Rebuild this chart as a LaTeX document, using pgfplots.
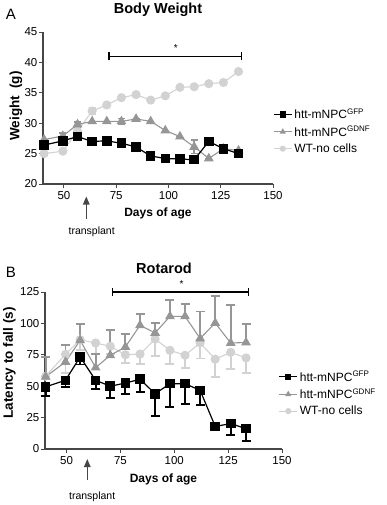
\documentclass[border=0pt]{standalone}
\usepackage{fontspec}
\setmainfont{Liberation Sans}
\usepackage{pgfplots}
\pgfplotsset{compat=1.18}
\usetikzlibrary{arrows.meta}
\definecolor{gdnf}{RGB}{150,150,150}
\definecolor{wtc}{RGB}{210,210,210}
\definecolor{axc}{RGB}{70,70,70}

\pgfplotsset{
  mystyle/.style={
    scale only axis, clip=false,
    axis x line*=bottom, axis y line*=left,
    axis line style={axc, line width=1.1pt},
    tick align=outside, major tick length=4pt,
    every tick/.style={axc, line width=1pt},
    tick label style={font=\fontsize{11.5}{13}\selectfont},
    yticklabel style={inner xsep=1.5pt},
    /pgf/number format/assume math mode=true,
    xmin=40, xmax=150, xtick={50,75,100,125,150},
    legend cell align=left,
    reverse legend,
    legend style={draw=none, fill=none, font=\fontsize{12}{14}\selectfont, row sep=2pt, inner sep=0pt},
    legend image code/.code={\draw[mark repeat=2,mark phase=2] plot coordinates {(0pt,0pt) (9pt,0pt) (18pt,0pt)};},
    legend image post style={mark size=2.5pt},
  },
  gfp/.style={black, line width=1.2pt, mark=square*, mark size=4.2pt, mark options={solid, fill=black}},
  gdnfs/.style={gdnf, line width=1.1pt, mark=triangle*, mark size=4.6pt, mark options={solid, fill=gdnf}},
  wts/.style={wtc, line width=1.1pt, mark=*, mark size=4pt, mark options={solid, fill=wtc}},
}

\begin{document}
\begin{tikzpicture}
\path[use as bounding box] (0pt,-505pt) rectangle (387pt,0pt);

% ---------------- Panel A ----------------
\begin{axis}[mystyle, at={(43pt,-184pt)}, anchor=south west,
  width=230pt, height=152pt, ymin=20, ymax=45, ytick={20,25,...,45},
  legend style={at={(axis description cs:1.0,0.51)}, anchor=north west}]
\addplot[wts, error bars/.cd, y dir=both, y explicit,
  error bar style={wtc, line width=1.6pt}, error mark options={rotate=90, wtc, line width=1.6pt, mark size=3.5pt}]
  coordinates {
  (40.5,25.0) +- (0,0)
  (49.5,25.4) +- (0,0)
  (56.5,28.7) +- (0,1.4)
  (63.5,32.0) +- (0,0.5)
  (70.5,33.0) +- (0,0)
  (77.5,34.2) +- (0,0)
  (84.5,34.7) +- (0,0)
  (91.5,33.8) +- (0,0)
  (98.5,34.5) +- (0,0)
  (105.5,35.9) +- (0,0)
  (112.3,36.0) +- (0,0)
  (119.3,36.5) +- (0,0)
  (126.3,36.7) +- (0,0.5)
  (133.5,38.5) +- (0,0)
  };
\addlegendentry{WT-no cells}
\addplot[gdnfs, error bars/.cd, y dir=both, y explicit,
  error bar style={gdnf, line width=1.6pt}, error mark options={rotate=90, gdnf, line width=1.6pt, mark size=3.5pt}]
  coordinates {
  (40.5,27.3) +- (0,0)
  (49.5,27.9) +- (0,0.5)
  (56.5,29.8) +- (0,0.4)
  (63.5,30.3) +- (0,0)
  (70.5,30.3) +- (0,0)
  (77.5,30.3) +- (0,0.5)
  (84.5,30.7) +- (0,0)
  (91.5,30.3) +- (0,0)
  (98.5,28.8) +- (0,0)
  (105.5,27.8) +- (0,0)
  (112.3,26.1) +- (0,1.1)
  (119.3,24.2) +- (0,0)
  (126.3,25.8) +- (0,0)
  (133.5,25.5) +- (0,0)
  };
\addlegendentry{htt-mNPC\textsuperscript{GDNF}}
\addplot[gfp] coordinates {
  (40.5,26.4) (49.5,27.1) (56.5,27.8) (63.5,27.0) (70.5,27.1) (77.5,26.7) (84.5,26.1)
  (91.5,24.6) (98.5,24.2) (105.5,24.1) (112.3,24.0) (119.3,27.0) (126.3,25.8) (133.5,25.0)
  };
\addlegendentry{htt-mNPC\textsuperscript{GFP}}
% significance bar
\draw[black, line width=1.6pt] (axis cs:71.6,41) -- (axis cs:135,41);
\draw[black, line width=1.6pt] (axis cs:71.6,40.35) -- (axis cs:71.6,41.65);
\draw[black, line width=1.6pt] (axis cs:135,40.35) -- (axis cs:135,41.65);
\node[font=\fontsize{10}{11}\selectfont] at (axis cs:103.5,42.3) {*};
\end{axis}

\node[font=\bfseries\fontsize{14.5}{16}\selectfont] at (158pt,-10pt) {Body Weight};
\node[font=\fontsize{15}{17}\selectfont] at (11pt,-14pt) {A};
\node[rotate=90, font=\bfseries\fontsize{13.5}{15}\selectfont] at (16pt,-106pt) {Weight\ \ (g)};
\node[font=\bfseries\fontsize{12}{14}\selectfont] at (158pt,-213pt) {Days of age};
\draw[axc, line width=1.2pt, -{Triangle[width=6.5pt,length=8pt]}] (86.3pt,-219pt) -- (86.3pt,-196.5pt);
\node[font=\fontsize{10.5}{12}\selectfont] at (91.7pt,-231.7pt) {transplant};

% ---------------- Panel B ----------------
\begin{axis}[mystyle, at={(45pt,-449pt)}, anchor=south west,
  width=237pt, height=157pt, ymin=0, ymax=125, ytick={0,25,...,125},
  legend style={at={(axis description cs:0.985,0.51)}, anchor=north west}]
\addplot[wts, error bars/.cd, y dir=minus, y explicit,
  error bar style={wtc, line width=1.8pt}, error mark options={rotate=90, wtc, line width=1.8pt, mark size=4.5pt}]
  coordinates {
  (40.3,57.9) +- (0,0)
  (49.5,75.4) +- (0,15)
  (56.3,87.0) +- (0,8)
  (63.5,84.4) +- (0,8.5)
  (70.3,81.8) +- (0,6)
  (77.3,75.0) +- (0,6.5)
  (84.1,75.6) +- (0,8)
  (91.1,87.5) +- (0,13.4)
  (98.0,78.6) +- (0,11)
  (105.0,74.6) +- (0,9.8)
  (112.0,84.5) +- (0,12.5)
  (119.0,71.5) +- (0,14)
  (126.2,77.0) +- (0,13.5)
  (133.3,72.5) +- (0,12)
  };
\addlegendentry{WT-no cells}
\addplot[gdnfs, error bars/.cd, y dir=plus, y explicit,
  error bar style={gdnf, line width=1.8pt}, error mark options={rotate=90, gdnf, line width=1.8pt, mark size=4.5pt}]
  coordinates {
  (40.3,57.5) +- (0,16)
  (49.5,69.3) +- (0,13.3)
  (56.3,86.5) +- (0,13.3)
  (63.5,64.8) +- (0,11)
  (70.3,74.6) +- (0,20.4)
  (77.3,81.2) +- (0,10.6)
  (84.1,98.5) +- (0,9.3)
  (91.1,92.4) +- (0,8.2)
  (98.0,105.6) +- (0,12.8)
  (105.0,105.6) +- (0,10.1)
  (112.0,88.0) +- (0,21.5)
  (119.0,100.3) +- (0,21.3)
  (126.2,84.4) +- (0,30.3)
  (133.3,84.8) +- (0,14.5)
  };
\addlegendentry{htt-mNPC\textsuperscript{GDNF}}
\addplot[gfp, error bars/.cd, y dir=minus, y explicit,
  error bar style={black, line width=1.9pt}, error mark options={rotate=90, black, line width=1.9pt, mark size=4.5pt}]
  coordinates {
  (40.3,49.5) +- (0,7)
  (49.5,54.7) +- (0,5.3)
  (56.3,73.3) +- (0,6)
  (63.5,54.7) +- (0,6.6)
  (70.3,50.0) +- (0,9.5)
  (77.3,52.5) +- (0,8.5)
  (84.1,55.5) +- (0,10)
  (91.1,44.0) +- (0,17.5)
  (98.0,52.0) +- (0,18.6)
  (105.0,52.0) +- (0,16)
  (112.0,46.7) +- (0,11.4)
  (119.0,18.0) +- (0,0)
  (126.2,20.2) +- (0,9.3)
  (133.3,16.2) +- (0,10)
  };
\addlegendentry{htt-mNPC\textsuperscript{GFP}}
% significance bar
\draw[black, line width=1.6pt] (axis cs:71.4,125) -- (axis cs:134.4,125);
\draw[black, line width=1.6pt] (axis cs:71.4,121.8) -- (axis cs:71.4,128.2);
\draw[black, line width=1.6pt] (axis cs:134.4,121.8) -- (axis cs:134.4,128.2);
\node[font=\fontsize{10}{11}\selectfont] at (axis cs:103.4,131) {*};
\end{axis}

\node[font=\bfseries\fontsize{14.5}{16}\selectfont] at (164pt,-268pt) {Rotarod};
\node[font=\fontsize{15}{17}\selectfont] at (11pt,-272pt) {B};
\node[rotate=90, font=\bfseries\fontsize{13.5}{15}\selectfont] at (9.5pt,-363pt) {Latency to fall (s)};
\node[font=\bfseries\fontsize{12}{14}\selectfont] at (163.5pt,-479pt) {Days of age};
\draw[axc, line width=1.2pt, -{Triangle[width=6.5pt,length=8pt]}] (87.3pt,-480pt) -- (87.3pt,-459pt);
\node[font=\fontsize{10.5}{12}\selectfont] at (92.2pt,-496.7pt) {transplant};
\end{tikzpicture}
\end{document}
